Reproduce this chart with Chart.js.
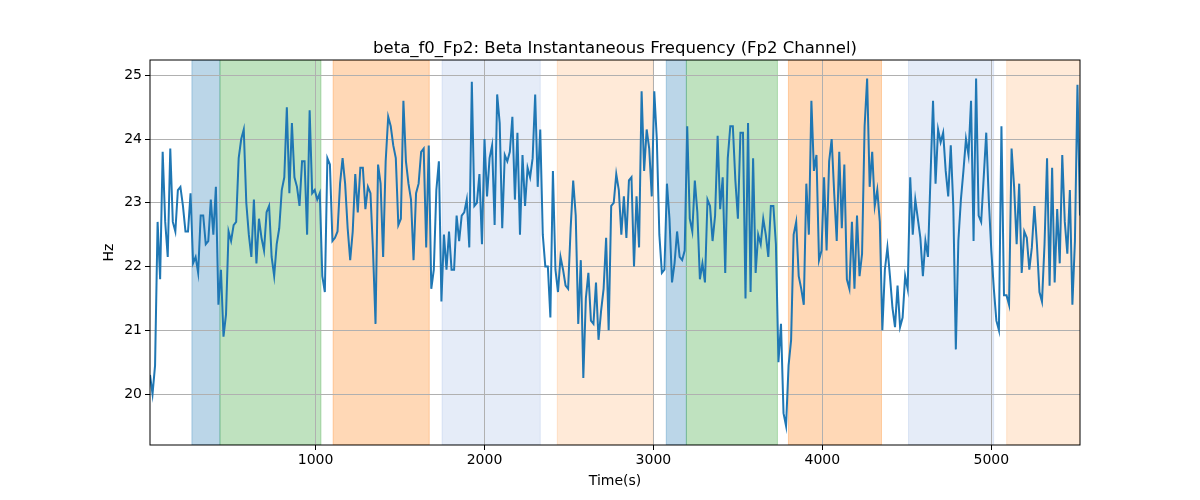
<!DOCTYPE html>
<html>
<head>
<meta charset="utf-8">
<script src="https://cdn.jsdelivr.net/npm/chart.js@4.4.1/dist/chart.umd.min.js"></script>
<style>
  body { margin: 0; background: #fff; }
</style>
</head>
<body>
<canvas id="myChart" width="1200" height="500"></canvas>
<script>
// sampling of the time base (seconds)
var startTime = 20;
var sampleStep = 15;

// Beta instantaneous frequency, Hz
var values = [
  20.3, 20.0, 20.45, 22.7, 21.8, 23.8, 22.7, 22.15, 23.85, 22.7, 22.55, 23.2, 23.25, 22.95, 22.55,
  22.55, 23.15, 22.05, 22.15, 21.9, 22.8, 22.8, 22.35, 22.4, 23.05, 22.5, 23.25, 21.4, 21.95, 20.9,
  21.25, 22.55, 22.4, 22.65, 22.7, 23.7, 24.0, 24.15, 23.0, 22.5, 22.15, 23.05, 22.05, 22.75, 22.45,
  22.25, 22.85, 22.95, 22.15, 21.85, 22.35, 22.6, 23.2, 23.4, 24.5, 23.15, 24.25, 23.4, 23.25, 22.95, 23.65,
  23.65, 22.5, 24.45, 23.15, 23.2, 23.05, 23.15, 21.85, 21.6, 23.7, 23.6, 22.4, 22.45, 22.55, 23.3,
  23.7, 23.3, 22.6, 22.1, 22.55, 23.45, 22.85, 23.55, 23.55, 22.9, 23.25, 23.15, 22.25, 21.1, 23.6, 23.3,
  22.15, 23.65, 24.35, 24.2, 23.9, 23.7, 22.65, 22.75, 24.6, 23.65, 23.3, 23.05, 22.1, 23.15, 23.3,
  23.8, 23.85, 22.3, 23.9, 21.65, 21.95, 23.2, 23.65, 21.45, 22.5, 21.95, 22.55, 21.95, 21.95, 22.8, 22.4,
  22.8, 22.85, 23.05, 22.3, 24.9, 22.95, 23.0, 23.45, 22.35, 24.0, 23.1, 23.7, 23.9, 22.65, 24.7,
  24.25, 22.6, 23.75, 23.65, 23.8, 24.35, 23.05, 24.1, 22.5, 23.75, 22.95, 23.55, 23.4, 23.7, 24.7, 23.25,
  24.15, 22.5, 22.0, 22.0, 21.2, 23.5, 21.95, 21.6, 22.15, 21.95, 21.7, 21.65, 22.6, 23.35, 22.8,
  21.1, 22.1, 20.25, 21.5, 21.9, 21.15, 21.1, 21.75, 20.85, 21.3, 21.65, 22.45, 21.0, 22.95, 23.0,
  23.45, 23.2, 22.5, 23.1, 22.45, 23.35, 23.4, 22.0, 23.1, 22.3, 24.75, 23.5, 24.15, 23.85, 23.1,
  24.75, 24.0, 22.5, 21.9, 21.95, 23.3, 22.75, 21.75, 22.05, 22.55, 22.15, 22.1, 22.25, 24.2, 22.75, 22.55,
  23.35, 22.85, 21.8, 22.05, 21.75, 23.05, 22.95, 22.4, 22.8, 24.05, 22.9, 23.4, 21.9, 23.7, 24.2,
  24.2, 23.35, 22.75, 24.1, 24.1, 21.5, 24.25, 21.6, 23.7, 21.9, 22.5, 22.35, 22.75, 22.5, 22.15,
  22.95, 22.95, 22.35, 20.5, 21.1, 19.7, 19.5, 20.45, 20.85, 22.5, 22.7, 21.85, 21.65, 21.4, 23.3,
  22.5, 24.6, 23.5, 23.75, 22.1, 22.25, 23.4, 22.25, 23.65, 24.0, 23.15, 22.4, 23.8, 22.6, 23.6, 21.8,
  21.65, 22.7, 21.65, 22.8, 21.85, 22.2, 24.2, 24.95, 23.25, 23.8, 22.95, 23.2, 22.7, 21.0, 21.95,
  22.3, 21.85, 21.35, 21.05, 21.7, 21.05, 21.2, 21.85, 21.65, 23.4, 22.5, 23.05, 22.75, 22.45, 21.85, 22.4,
  22.15, 23.4, 24.6, 23.3, 24.15, 23.95, 24.1, 23.5, 23.1, 23.9, 22.95, 20.7, 22.4, 23.05, 23.5,
  24.0, 23.75, 24.6, 22.4, 24.95, 22.8, 22.7, 23.4, 24.1, 23.05, 22.25, 21.65, 21.15, 21.0, 24.2,
  21.55, 21.55, 21.4, 23.85, 23.25, 22.35, 23.3, 21.9, 22.55, 22.45, 21.95, 22.3, 22.95, 22.35, 21.6,
  21.45, 22.35, 23.7, 21.7, 23.55, 21.75, 22.9, 22.05, 23.75, 22.7, 22.2, 23.2, 21.4, 22.4, 24.85, 22.8
];

// shaded segments (seconds)
var spanStarts = [268, 434, 1104, 1749, 2431, 3076, 3195, 3799, 4510, 5091];
var spanEnds   = [434, 1032, 1673, 2330, 2999, 3195, 3734, 4350, 5014, 5525];
var spanColors = [
  'rgba(31, 119, 180, 0.3)',
  'rgba(44, 160, 44, 0.3)',
  'rgba(255, 127, 14, 0.3)',
  'rgba(80, 130, 210, 0.15)',
  'rgba(255, 127, 14, 0.16)',
  'rgba(31, 119, 180, 0.3)',
  'rgba(44, 160, 44, 0.3)',
  'rgba(255, 127, 14, 0.3)',
  'rgba(80, 130, 210, 0.15)',
  'rgba(255, 127, 14, 0.16)'
];

var xTicks = [1000, 2000, 3000, 4000, 5000];
var yTicks = [20, 21, 22, 23, 24, 25];
var chartTitle = 'beta_f0_Fp2: Beta Instantaneous Frequency (Fp2 Channel)';

var points = values.map(function (v, i) {
  return { x: startTime + i * sampleStep, y: v };
});
var lastTime = startTime + (values.length - 1) * sampleStep;

var spanPlugin = {
  id: 'spans',
  beforeDraw: function (chart) {
    var ctx = chart.ctx, a = chart.chartArea, xs = chart.scales.x;
    ctx.save();
    ctx.beginPath();
    ctx.rect(a.left, a.top, a.right - a.left, a.bottom - a.top);
    ctx.clip();
    for (var i = 0; i < spanStarts.length; i++) {
      var x0 = xs.getPixelForValue(spanStarts[i]);
      var x1 = xs.getPixelForValue(spanEnds[i]);
      ctx.fillStyle = spanColors[i];
      ctx.fillRect(x0, a.top, x1 - x0, a.bottom - a.top);
      ctx.strokeStyle = spanColors[i];
      ctx.lineWidth = 1;
      ctx.strokeRect(x0, a.top, x1 - x0, a.bottom - a.top);
    }
    ctx.restore();
  },
  afterDraw: function (chart) {
    var ctx = chart.ctx, a = chart.chartArea;
    ctx.save();
    ctx.strokeStyle = '#000';
    ctx.lineWidth = 1;
    ctx.strokeRect(a.left, a.top, a.right - a.left, a.bottom - a.top);
    ctx.fillStyle = '#000';
    ctx.font = '16.5px "DejaVu Sans"';
    ctx.textAlign = 'center';
    ctx.textBaseline = 'alphabetic';
    ctx.fillText(chartTitle, (a.left + a.right) / 2, a.top - 7);
    ctx.restore();
  }
};

var ctx = document.getElementById('myChart').getContext('2d');
var myChart = new Chart(ctx, {
  type: 'line',
  data: {
    datasets: [{
      data: points,
      borderColor: '#1f77b4',
      borderWidth: 2,
      pointRadius: 0,
      tension: 0,
      fill: false
    }]
  },
  options: {
    responsive: false,
    animation: false,
    devicePixelRatio: 1,
    layout: { padding: { left: 0, right: 120, top: 60, bottom: 0 } },
    plugins: { legend: { display: false }, tooltip: { enabled: false } },
    scales: {
      x: {
        type: 'linear',
        min: startTime,
        max: lastTime,
        afterBuildTicks: function (s) { s.ticks = xTicks.map(function (v) { return { value: v }; }); },
        afterFit: function (s) { s.height = 55; },
        grid: { color: '#b0b0b0', lineWidth: 1, tickColor: '#000', tickLength: 5 },
        border: { display: false },
        ticks: { color: '#000', font: { family: 'DejaVu Sans', size: 14 }, maxRotation: 0, padding: 2,
                 callback: function (v) { return v; } },
        title: { display: true, text: 'Time(s)', color: '#000',
                 font: { family: 'DejaVu Sans', size: 14 }, padding: { top: 0, bottom: 10 } }
      },
      y: {
        min: 19.2,
        max: 25.24,
        afterBuildTicks: function (s) { s.ticks = yTicks.map(function (v) { return { value: v }; }); },
        afterFit: function (s) { s.width = 150; },
        grid: { color: '#b0b0b0', lineWidth: 1, tickColor: '#000', tickLength: 5 },
        border: { display: false },
        ticks: { color: '#000', font: { family: 'DejaVu Sans', size: 14 }, padding: 3 },
        title: { display: true, text: 'Hz', color: '#000',
                 font: { family: 'DejaVu Sans', size: 14 }, padding: { top: 101, bottom: 0 } }
      }
    }
  },
  plugins: [spanPlugin]
});
</script>
</body>
</html>
